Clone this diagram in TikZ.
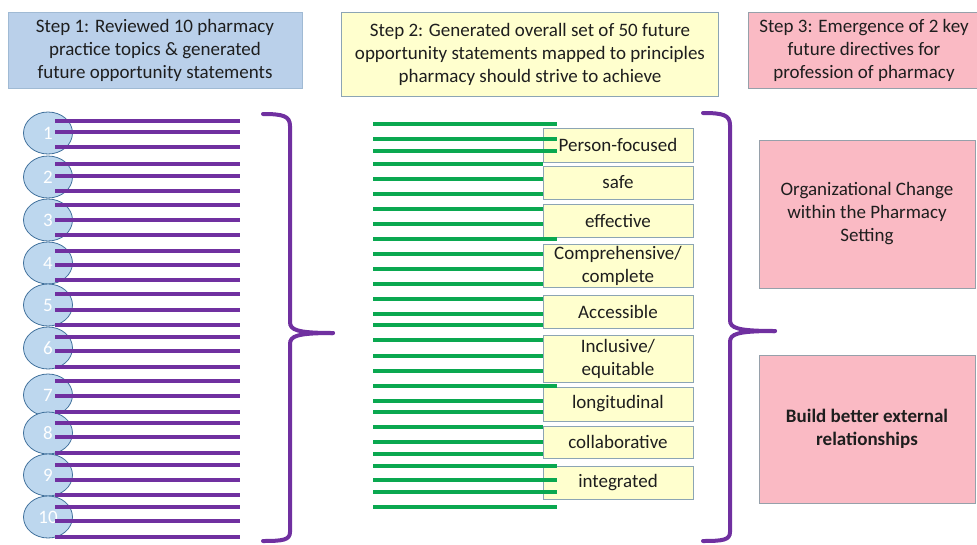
\documentclass[tikz,border=0pt]{standalone}
\usepackage{fontspec}
\setmainfont{Carlito}
\usetikzlibrary{positioning,shapes.geometric}

\definecolor{txtgray}{RGB}{30,30,30}
\definecolor{brpurple}{RGB}{112,48,160}
\definecolor{stgreen}{RGB}{10,168,80}
\definecolor{bluefill}{RGB}{186,208,234}
\definecolor{blueline}{RGB}{160,186,212}
\definecolor{yelfill}{RGB}{255,255,206}
\definecolor{yelline}{RGB}{140,165,180}
\definecolor{pinkfill}{RGB}{250,186,196}
\definecolor{pinkline}{RGB}{150,160,170}
\definecolor{topicfill}{RGB}{189,215,238}
\definecolor{topicline}{RGB}{65,113,156}

\tikzset{
  stepbox/.style={draw, rectangle, align=center, inner sep=0pt, text=txtgray,
    font=\fontsize{19}{23}\selectfont},
  principle/.style={stepbox, draw=yelline, fill=yelfill, minimum width=150pt, line width=0.8pt},
  directive/.style={stepbox, draw=pinkline, fill=pinkfill, minimum width=216pt, minimum height=148pt, line width=0.8pt},
  topic/.style={draw=topicline, fill=topicfill, ellipse, minimum width=49pt, minimum height=42pt,
    inner sep=0pt, line width=0.8pt, text=white, font=\fontsize{19}{22}\selectfont},
  brace/.style={draw=brpurple, line width=4pt, line cap=round},
}

\begin{document}
\begin{tikzpicture}[x=1pt, y=-1pt, thick]
    \useasboundingbox (0,0) rectangle (977,544);

    % Step headers
    \node[stepbox, draw=blueline, fill=bluefill, minimum width=294pt, minimum height=76pt] (step1) at (155,50)
        {Step 1: Reviewed 10 pharmacy\\practice topics \& generated\\future opportunity statements};
    \node[stepbox, draw=yelline, fill=yelfill, minimum width=377pt, minimum height=84pt] (step2) at (530,54)
        {Step 2: Generated overall set of 50 future\\opportunity statements mapped to principles\\pharmacy should strive to achieve};
    \node[stepbox, draw=pinkline, fill=pinkfill, minimum width=232pt, minimum height=76pt] (step3) at (864,50)
        {Step 3: Emergence of 2 key\\future directives for\\profession of pharmacy};

    % Topics and their statements
    \foreach \i/\y in {1/133, 2/177, 3/220, 4/263, 5/305, 6/348, 7/395, 8/433, 9/475, 10/517}
        \node[topic] (t\i) at (48,\y) {\i};
    \foreach \y in {121, 132, 147, 164, 176, 191, 205, 220, 235, 251, 265, 280, 294, 310, 325,
                    337, 351, 367, 381, 396, 412, 423, 437, 453, 465, 480, 495, 507, 521, 537}
        \draw[brpurple, line width=3.2pt] (55,\y) -- (240,\y);

    % Principles
    \node[principle, minimum height=34pt] (pf) at (618,145) {Person-focused};
    \node[principle, minimum height=33pt] (safe) at (618,182.5) {safe};
    \node[principle, minimum height=33pt] (eff) at (618,220.5) {effective};
    \node[principle, minimum height=43pt] (comp) at (618,265.5) {Comprehensive/\\complete};
    \node[principle, minimum height=33pt] (acc) at (618,311.5) {Accessible};
    \node[principle, minimum height=47pt] (incl) at (618,358.5) {Inclusive/\\equitable};
    \node[principle, minimum height=34pt] (longi) at (618,404) {longitudinal};
    \node[principle, minimum height=32pt] (collab) at (618,442) {collaborative};
    \node[principle, minimum height=33pt] (integ) at (618,482.5) {integrated};

    % Mapped statements
    \foreach \y in {164, 179, 194, 209, 224, 254, 269, 284, 299, 314, 325, 340, 356, 371,
                    401, 412, 427, 442, 454}
        \draw[stgreen, line width=3.2pt] (373,\y) -- (543,\y);
    \foreach \y in {124, 139, 151, 239, 386, 466, 480, 492, 507}
        \draw[stgreen, line width=3.2pt] (373,\y) -- (557,\y);

    % Directives
    \node[directive] (org) at (867,214) {Organizational Change\\within the Pharmacy\\Setting};
    \node[directive, font=\fontsize{19}{23}\selectfont\bfseries] (ext) at (867,429) {Build better external\\relationships};

    % Braces
    \draw[brace] (263,114) .. controls (283,114) and (290,116) .. (290,126) -- (290,322)
        .. controls (290,330) and (297,333) .. (333,333);
    \draw[brace] (333,333) .. controls (297,333) and (290,336) .. (290,344) -- (290,532)
        .. controls (290,540) and (283,541) .. (263,541);
    \draw[brace] (703,113) .. controls (723,113) and (730,115) .. (730,125) -- (730,320)
        .. controls (730,328) and (737,331) .. (775,331);
    \draw[brace] (775,331) .. controls (737,331) and (730,334) .. (730,342) -- (730,532)
        .. controls (730,540) and (723,541) .. (703,541);
\end{tikzpicture}
\end{document}
